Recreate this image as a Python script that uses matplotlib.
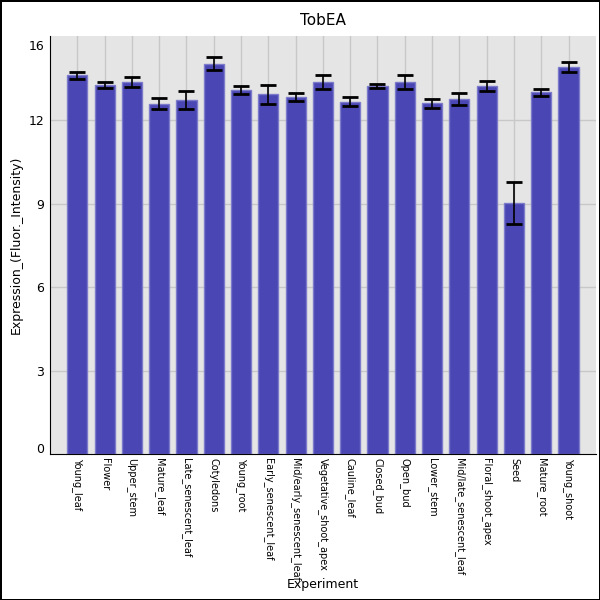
import matplotlib
matplotlib.use("Agg")
from matplotlib import pyplot as plt


# DATA
experiments = ["Young_leaf", "Flower", "Upper_stem", "Mature_leaf", "Late_senescent_leaf",
               "Cotyledons", "Young_root", "Early_senescent_leaf", "Mid/early_senescent_leaf",
               "Vegetative_shoot_apex", "Cauline_leaf", "Closed_bud", "Open_bud", "Lower_stem",
               "Mid/late_senescent_leaf", "Floral_shoot_apex", "Seed", "Mature_root", "Young_shoot"]
expression = [13.62, 13.27, 13.38, 12.60, 12.74, 14.04, 13.10, 12.93, 12.83, 13.38,
              12.67, 13.23, 13.37, 12.61, 12.77, 13.24, 9.03, 13.01, 13.91]
errors = [0.12, 0.11, 0.19, 0.21, 0.32, 0.22, 0.14, 0.33, 0.14, 0.24,
          0.16, 0.08, 0.25, 0.16, 0.22, 0.18, 0.75, 0.12, 0.17]
ytick_major = [3, 6, 9, 12]
ytick_edge = [0.22, 14.7]
ytick_edge_labels = ["0", "16"]


# PLOT
bar_color = "#4a46b4"
edge_color = "#7c7acb"
bg_color = "#e5e5e5"
grid_color = "#c8c8c8"

fig = plt.figure(figsize=(6, 6), dpi=100)
fig.patch.set_edgecolor("black")
fig.patch.set_linewidth(2)
ax = fig.add_axes([0.0825, 0.243, 0.9105, 0.697])
ax.set_facecolor(bg_color)

x = range(len(experiments))
ax.bar(x, expression, width=0.74, color=bar_color, edgecolor=edge_color, linewidth=1, zorder=2)
ax.errorbar(x, expression, yerr=errors, fmt="none", ecolor="black", elinewidth=1.2,
            capsize=5.6, capthick=2, zorder=3)

ax.set_xlim(-1.02, 19.0)
ax.set_ylim(0, 15.03)

ax.set_xticks(list(x))
ax.set_xticklabels(experiments, rotation=270, fontsize=7, va="top", ha="center")
ax.set_yticks(ytick_major)
ax.set_yticks(ytick_edge, minor=True)
ax.set_yticklabels(ytick_edge_labels, minor=True)
ax.tick_params(axis="both", which="both", length=0, labelsize=9, pad=4)
ax.tick_params(axis="x", labelsize=7, pad=3)

ax.grid(which="major", color=grid_color, linewidth=1, zorder=0)
ax.set_axisbelow(True)

for s in ["top", "right"]:
    ax.spines[s].set_visible(False)
ax.spines["left"].set_color("black")
ax.spines["bottom"].set_color("black")

ax.set_title("TobEA", fontsize=11, pad=8)
ax.set_ylabel("Expression_(Fluor._Intensity)", fontsize=9)
ax.set_xlabel("Experiment", fontsize=9)
ax.yaxis.set_label_coords(-0.06, 0.5)
ax.xaxis.set_label_coords(0.5, -0.311)
ax.xaxis.label.set_va("center")
ax.yaxis.label.set_va("center")

fig.savefig("out.png", dpi=100, edgecolor=fig.get_edgecolor())
